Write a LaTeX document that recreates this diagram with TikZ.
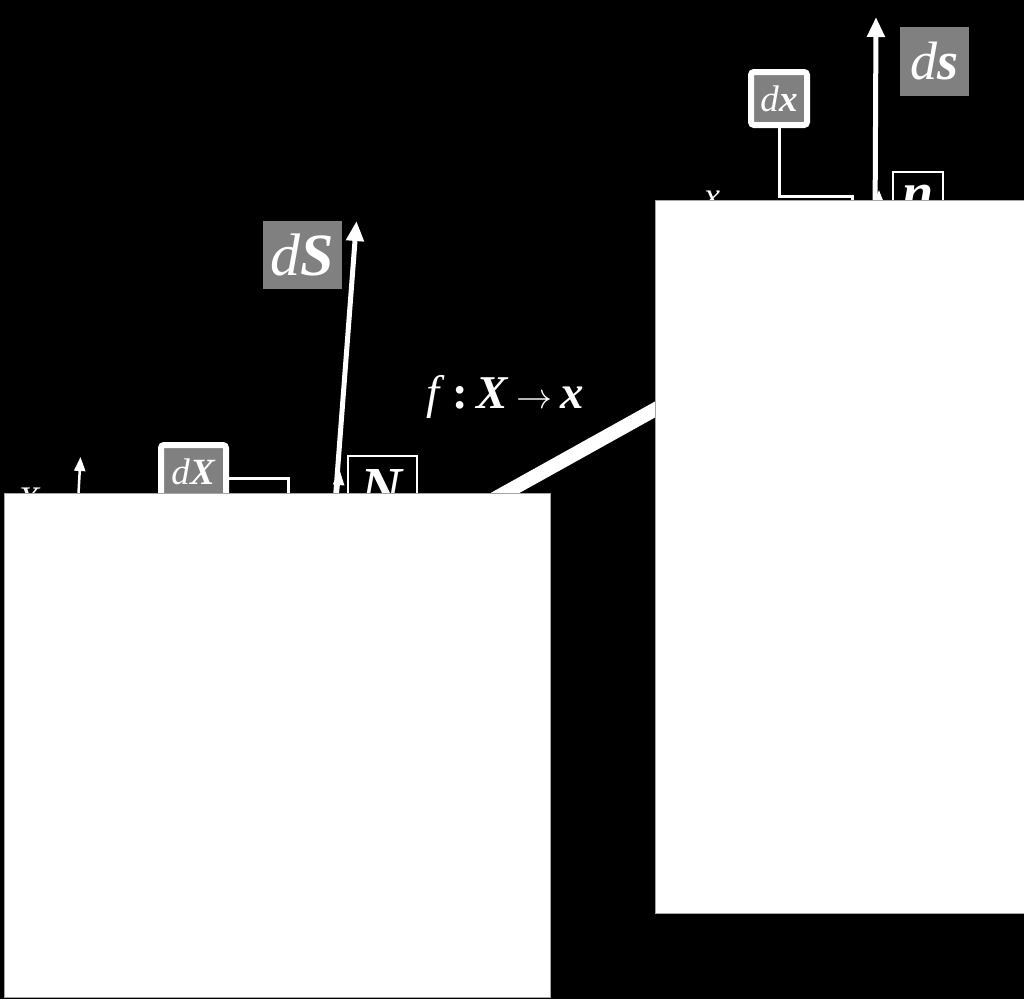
\documentclass[tikz,border=0pt]{standalone}
\usepackage{graphicx}
\usepackage{fontspec}
\setmainfont{Liberation Serif}
\usetikzlibrary{arrows.meta}
\definecolor{boxgray}{HTML}{808080}
\begin{document}
\begin{tikzpicture}[x=1pt,y=-1pt,
  graybox/.style={rectangle,fill=boxgray,text=white,inner sep=0pt},
  framedgray/.style={rectangle,fill=boxgray,draw=white,line width=6pt,rounded corners=3pt,text=white,inner sep=0pt},
  blackbox/.style={rectangle,fill=black,draw=white,line width=1.8pt,text=white,inner sep=0pt},
  wline/.style={draw=white,line width=3pt},
  bigarrow/.style={draw=white,line width=5pt,-{Triangle[width=17pt,length=20pt]}},
  smallarrow/.style={draw=white,line width=2.5pt,-{Triangle[width=11pt,length=14pt]}},
  lbl/.style={text=white,inner sep=0pt},
  cover/.style={fill=white,draw=gray!70,line width=1pt}]
\useasboundingbox (0,0) rectangle (1024,999);
\fill[black] (0,0) rectangle (1024,999);

% connecting band
\coordinate (bandA) at (460,518);
\coordinate (bandB) at (690,390);
\draw[white,line width=14pt] (bandA) -- (bandB);

% ---------- left (reference) element ----------
\node[graybox,minimum width=79pt,minimum height=68pt,font=\fontsize{60}{60}\selectfont] (dS) at (302.5,255) {\textit{d}\textbf{\textit{S}}};
\coordinate (dSbase) at (333,530);
\coordinate (dStip) at (356.5,221);
\draw[bigarrow] (dSbase) -- (dStip);

\node[framedgray,minimum width=65pt,minimum height=54pt,font=\fontsize{37}{37}\selectfont] (dX) at (193.5,472) {\textit{d}\textbf{\textit{X}}};
\coordinate (dXc) at (288,478);
\coordinate (dXe) at (288,520);
\draw[wline] (dX.east |- dXc) -- (dXc) -- (dXe);

\node[blackbox,minimum width=69pt,minimum height=65pt,font=\fontsize{58}{58}\selectfont,anchor=north west] (N) at (347,455) {\textbf{\textit{N}}};
\coordinate (Nb) at (335,520);
\coordinate (Nt) at (340,471);
\draw[smallarrow] (Nb) -- (Nt);

\coordinate (Xb) at (77,520);
\coordinate (Xt) at (80.5,457);
\draw[smallarrow] (Xb) -- (Xt);
\node[lbl,font=\fontsize{36}{36}\selectfont,anchor=north] (Xl) at (29,488) {\textit{X}};

% map label
\node[lbl,font=\fontsize{47}{47}\selectfont] (map) at (505,397) {\textit{f}\,\textbf{:}\,\textbf{\textit{X}}\,\resizebox{36pt}{!}{$\rightarrow$}\,\textbf{\textit{x}}};

% ---------- right (current) element ----------
\node[graybox,minimum width=69pt,minimum height=69pt,font=\fontsize{54}{54}\selectfont] (ds) at (934.5,61.5) {\textit{d}\textbf{\textit{s}}};
\coordinate (dsbase) at (875,230);
\coordinate (dstip) at (876,17);
\draw[bigarrow] (dsbase) -- (dstip);

\node[framedgray,minimum width=56pt,minimum height=53pt,font=\fontsize{37}{37}\selectfont] (dx) at (779,98.5) {\textit{d}\textbf{\textit{x}}};
\coordinate (dxc) at (852,196);
\coordinate (dxe) at (852,220);
\draw[wline] (dx.south) -- (dx.south |- dxc) -- (dxc) -- (dxe);

\node[blackbox,minimum width=50pt,minimum height=53pt,font=\fontsize{56}{56}\selectfont,anchor=north west] (n) at (892,171) {\textbf{\textit{n}}};
\coordinate (nb) at (878,225);
\coordinate (nt) at (879,190);
\draw[smallarrow] (nb) -- (nt);

\node[lbl,font=\fontsize{36}{36}\selectfont,anchor=north] (xl) at (712,191) {\textit{x}};

% ---------- covering panels ----------
\draw[cover] (4.5,493) rectangle (550,997);
\draw[cover] (655,200) rectangle (1030,913);
\end{tikzpicture}
\end{document}
